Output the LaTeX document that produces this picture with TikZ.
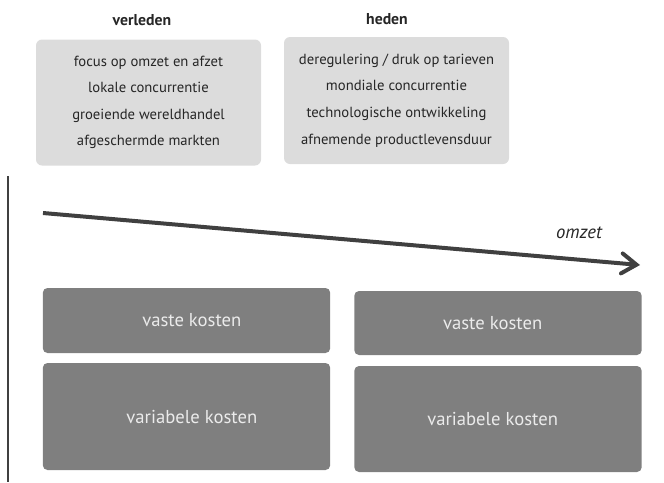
\documentclass[tikz,border=0pt]{standalone}
\usepackage{fontspec}
\setmainfont{PT Sans}
\usetikzlibrary{positioning, arrows.meta}
\definecolor{lightbox}{HTML}{DCDCDC}
\definecolor{darkbox}{HTML}{7F7F7F}
\definecolor{inkgray}{HTML}{404040}

\begin{document}
\begin{tikzpicture}[
  x=0.75pt, y=-0.75pt,
  period/.style={font=\bfseries\fontsize{11.8}{13}\selectfont, text=black!85},
  factors/.style={fill=lightbox, rounded corners=4.5pt, minimum width=168.75pt,
                  align=center, text=black!85, inner sep=0pt,
                  font=\fontsize{11}{19.9}\selectfont},
  cost/.style={fill=darkbox, rounded corners=3.5pt, minimum width=215.5pt,
               align=center, text=white!92!black, inner sep=0pt,
               font=\fontsize{14}{16}\selectfont},
  trend/.style={-{Straight Barb[length=11pt, width=15pt, line cap=round]},
                line width=3pt, color=inkgray},
]
\useasboundingbox (0,0) rectangle (664,482);

% === Headings ===
\node[period] (past) at (142,20) {verleden};
\node[period] (now) at (387,19) {heden};

% === Factor boxes ===
\node[factors, minimum height=94.5pt] (pastbox) at (148.5,102.5)
  {focus op omzet en afzet\\lokale concurrentie\\groeiende wereldhandel\\afgeschermde markten};
\node[factors, minimum height=95.25pt] (nowbox) at (396.5,100.5)
  {deregulering / druk op tarieven\\mondiale concurrentie\\technologische ontwikkeling\\afnemende productlevensduur};

% === Axis and trend ===
\coordinate (axtop) at (8,176);
\coordinate (axbot) at (8,482);
\draw[line width=1.5pt, color=inkgray] (axtop) -- (axbot);

\coordinate (trstart) at (43,213);
\coordinate (trend) at (640,265);
\draw[trend] (trstart) -- (trend);
\node[font=\itshape\fontsize{14}{16}\selectfont, text=black!85] (omzet) at (579,233) {omzet};

% === Cost blocks ===
\node[cost, minimum height=48.75pt] (pastfix) at (186.5,320.5) {\hspace{8pt}vaste kosten};
\node[cost, minimum height=80.25pt] (pastvar) at (186.5,416.5) {\hspace{8pt}\raisebox{-4pt}{variabele kosten}};
\node[cost, minimum height=48pt] (nowfix) at (498,323) {\raisebox{-3pt}{vaste kosten}\hspace{8pt}};
\node[cost, minimum height=79.5pt] (nowvar) at (498,419) {\raisebox{-3pt}{variabele kosten}\hspace{8pt}};

\end{tikzpicture}
\end{document}
